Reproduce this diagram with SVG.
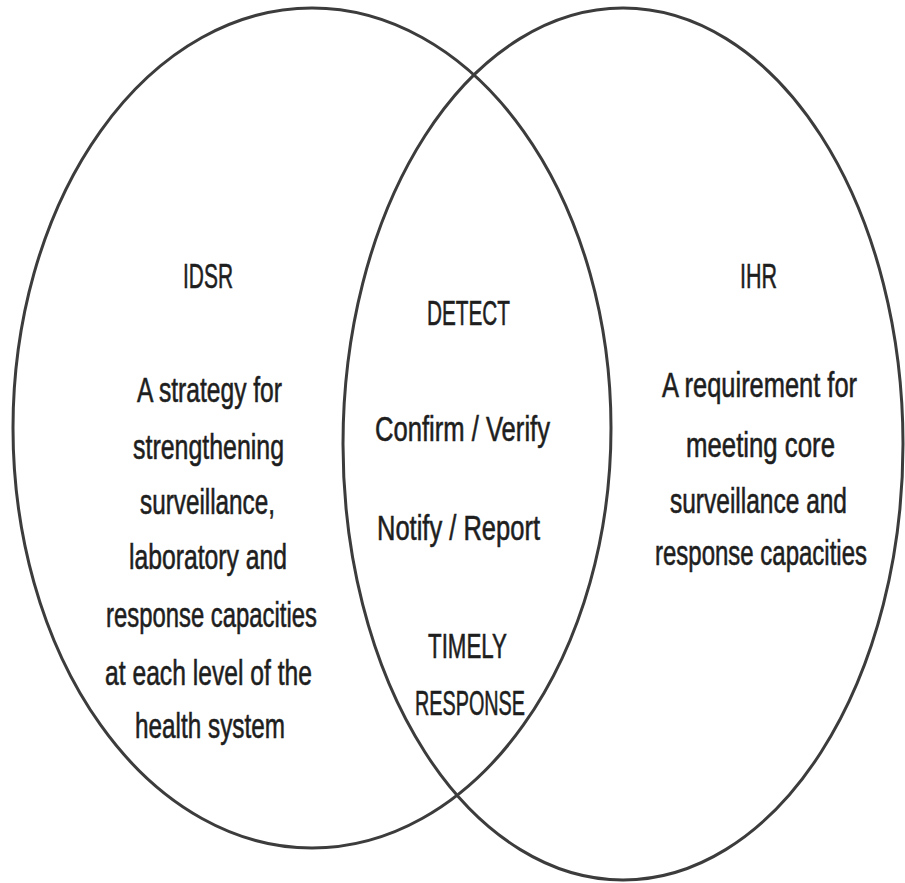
<svg xmlns="http://www.w3.org/2000/svg" width="905" height="883" viewBox="0 0 905 883">
<style>
.ring{fill:none;stroke:#3c3c3c;stroke-width:3}
.t{font-family:"Liberation Sans",Arial,sans-serif;font-size:35px;fill:#1e1e1e;stroke:#1e1e1e;stroke-width:0.6;text-anchor:middle}
</style>
<rect width="905" height="883" fill="#ffffff"/>
<g id="idsr">
<ellipse class="ring" cx="312" cy="428" rx="299" ry="420"/>
<text class="t" x="208" y="288" textLength="50" lengthAdjust="spacingAndGlyphs">IDSR</text>
<text class="t" x="209.5" y="402" textLength="145" lengthAdjust="spacingAndGlyphs">A strategy for</text>
<text class="t" x="208.5" y="459" textLength="151" lengthAdjust="spacingAndGlyphs">strengthening</text>
<text class="t" x="207.5" y="514" textLength="135" lengthAdjust="spacingAndGlyphs">surveillance,</text>
<text class="t" x="208" y="569" textLength="158" lengthAdjust="spacingAndGlyphs">laboratory and</text>
<text class="t" x="211.5" y="627" textLength="211" lengthAdjust="spacingAndGlyphs">response capacities</text>
<text class="t" x="208.5" y="685" textLength="207" lengthAdjust="spacingAndGlyphs">at each level of the</text>
<text class="t" x="210" y="738" textLength="150" lengthAdjust="spacingAndGlyphs">health system</text>
</g>
<g id="ihr">
<ellipse class="ring" cx="623" cy="444" rx="280" ry="436"/>
<text class="t" x="758.5" y="288" textLength="37" lengthAdjust="spacingAndGlyphs">IHR</text>
<text class="t" x="759.5" y="397" textLength="195" lengthAdjust="spacingAndGlyphs">A requirement for</text>
<text class="t" x="760.5" y="457" textLength="149" lengthAdjust="spacingAndGlyphs">meeting core</text>
<text class="t" x="758.5" y="513" textLength="177" lengthAdjust="spacingAndGlyphs">surveillance and</text>
<text class="t" x="761" y="565" textLength="212" lengthAdjust="spacingAndGlyphs">response capacities</text>
</g>
<g id="overlap">
<text class="t" x="468.5" y="325" textLength="83" lengthAdjust="spacingAndGlyphs">DETECT</text>
<text class="t" x="462.5" y="441" textLength="175" lengthAdjust="spacingAndGlyphs">Confirm / Verify</text>
<text class="t" x="458.5" y="540" textLength="163" lengthAdjust="spacingAndGlyphs">Notify / Report</text>
<text class="t" x="467.5" y="658" textLength="79" lengthAdjust="spacingAndGlyphs">TIMELY</text>
<text class="t" x="470" y="715" textLength="110" lengthAdjust="spacingAndGlyphs">RESPONSE</text>
</g>
</svg>
